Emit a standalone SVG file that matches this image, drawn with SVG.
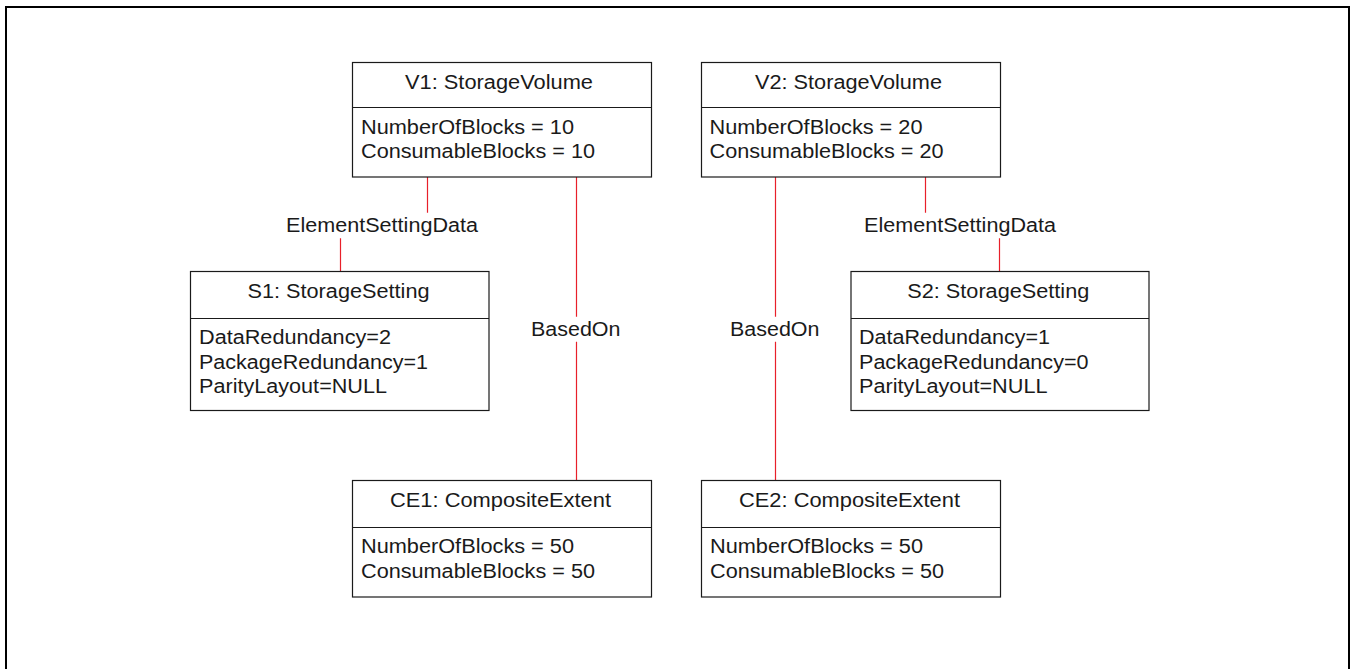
<svg xmlns="http://www.w3.org/2000/svg" width="1351" height="669" viewBox="0 0 1351 669">
<style>
.box{fill:#fff;stroke:#1a1a1a;stroke-width:1.2}
.div{stroke:#1a1a1a;stroke-width:1.2}
.t{font-family:"Liberation Sans",Arial,sans-serif;font-size:20px;fill:#1a1a1a}
.c{fill:none;stroke:#e8202a;stroke-width:1.2}
</style>
<rect x="6" y="7" width="1343" height="680" fill="#fff" stroke="#000" stroke-width="2"/>
<g id="connectors">
<path class="c" d="M427.5 177V212.7M340.5 238.3V271.5"/>
<path class="c" d="M576.5 177V316.7M576.5 341.7V480.5"/>
<path class="c" d="M775.5 177V316.7M775.5 341.7V480.5"/>
<path class="c" d="M925.5 177V212.7M999.5 238.3V271.5"/>
<text class="t" x="286" y="231.7" textLength="192" lengthAdjust="spacingAndGlyphs">ElementSettingData</text>
<text class="t" x="864" y="231.7" textLength="192" lengthAdjust="spacingAndGlyphs">ElementSettingData</text>
<text class="t" x="531" y="335.7" textLength="89.5" lengthAdjust="spacingAndGlyphs">BasedOn</text>
<text class="t" x="730" y="335.7" textLength="89.5" lengthAdjust="spacingAndGlyphs">BasedOn</text>
</g>
<g id="V1">
<rect class="box" x="352.5" y="62.5" width="299" height="114.5"/>
<line class="div" x1="352.5" y1="107.5" x2="651.5" y2="107.5"/>
<text class="t" x="405" y="88.5" textLength="188" lengthAdjust="spacingAndGlyphs">V1: StorageVolume</text>
<text class="t" x="361" y="134" textLength="213" lengthAdjust="spacingAndGlyphs">NumberOfBlocks = 10</text>
<text class="t" x="361" y="158.3" textLength="234" lengthAdjust="spacingAndGlyphs">ConsumableBlocks = 10</text>
</g>
<g id="V2">
<rect class="box" x="701.5" y="62.5" width="299" height="114.5"/>
<line class="div" x1="701.5" y1="107.5" x2="1000.5" y2="107.5"/>
<text class="t" x="755" y="88.5" textLength="187" lengthAdjust="spacingAndGlyphs">V2: StorageVolume</text>
<text class="t" x="709.5" y="134" textLength="213" lengthAdjust="spacingAndGlyphs">NumberOfBlocks = 20</text>
<text class="t" x="709.5" y="158.3" textLength="234" lengthAdjust="spacingAndGlyphs">ConsumableBlocks = 20</text>
</g>
<g id="S1">
<rect class="box" x="190.5" y="271.5" width="298.5" height="139"/>
<line class="div" x1="190.5" y1="318.5" x2="489" y2="318.5"/>
<text class="t" x="247.5" y="298.3" textLength="182" lengthAdjust="spacingAndGlyphs">S1: StorageSetting</text>
<text class="t" x="199" y="344" textLength="192" lengthAdjust="spacingAndGlyphs">DataRedundancy=2</text>
<text class="t" x="199" y="369" textLength="229" lengthAdjust="spacingAndGlyphs">PackageRedundancy=1</text>
<text class="t" x="199" y="392.7" textLength="188" lengthAdjust="spacingAndGlyphs">ParityLayout=NULL</text>
</g>
<g id="S2">
<rect class="box" x="851" y="271.5" width="298" height="139"/>
<line class="div" x1="851" y1="318.5" x2="1149" y2="318.5"/>
<text class="t" x="907.3" y="298.3" textLength="182" lengthAdjust="spacingAndGlyphs">S2: StorageSetting</text>
<text class="t" x="859" y="344" textLength="191" lengthAdjust="spacingAndGlyphs">DataRedundancy=1</text>
<text class="t" x="859" y="369" textLength="229.5" lengthAdjust="spacingAndGlyphs">PackageRedundancy=0</text>
<text class="t" x="859" y="392.7" textLength="188.5" lengthAdjust="spacingAndGlyphs">ParityLayout=NULL</text>
</g>
<g id="CE1">
<rect class="box" x="352.5" y="480.5" width="299" height="116.5"/>
<line class="div" x1="352.5" y1="527.5" x2="651.5" y2="527.5"/>
<text class="t" x="390" y="506.7" textLength="221" lengthAdjust="spacingAndGlyphs">CE1: CompositeExtent</text>
<text class="t" x="361" y="553.3" textLength="213" lengthAdjust="spacingAndGlyphs">NumberOfBlocks = 50</text>
<text class="t" x="361" y="578.3" textLength="234" lengthAdjust="spacingAndGlyphs">ConsumableBlocks = 50</text>
</g>
<g id="CE2">
<rect class="box" x="701.5" y="480.5" width="299" height="116.5"/>
<line class="div" x1="701.5" y1="527.5" x2="1000.5" y2="527.5"/>
<text class="t" x="739" y="506.7" textLength="221" lengthAdjust="spacingAndGlyphs">CE2: CompositeExtent</text>
<text class="t" x="710" y="553.3" textLength="213" lengthAdjust="spacingAndGlyphs">NumberOfBlocks = 50</text>
<text class="t" x="710" y="578.3" textLength="234" lengthAdjust="spacingAndGlyphs">ConsumableBlocks = 50</text>
</g>
</svg>
